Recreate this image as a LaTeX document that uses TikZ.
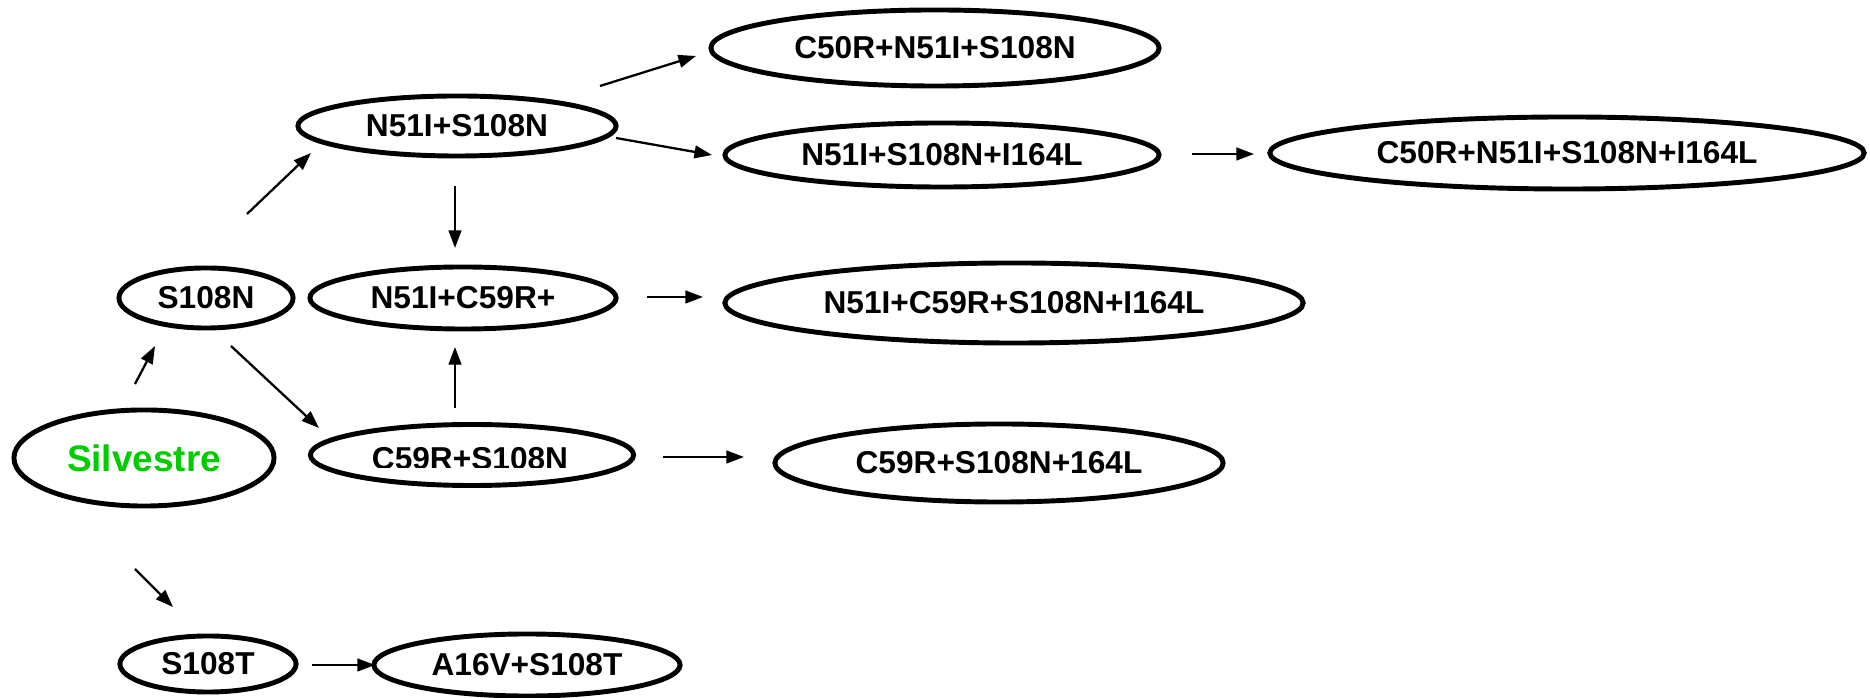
\documentclass[tikz,border=0pt]{standalone}
\usepackage{fontspec}
\setmainfont{Liberation Sans}
\usetikzlibrary{shapes.geometric,arrows.meta}
\definecolor{strain}{RGB}{0,204,0}
\begin{document}
\begin{tikzpicture}[x=0.01cm,y=-0.01cm,
  lbl/.style={font=\fontsize{9.0}{11}\selectfont\bfseries},
  mut/.style={draw,ellipse,line width=1.4pt,inner sep=0pt,lbl},
  arr/.style={-{Triangle[length=5pt,width=3.6pt]},line width=0.65pt}]
\useasboundingbox (0,0) rectangle (1870,698);

% mutation nodes
\node[mut,text=strain,minimum width=2.60cm,minimum height=0.96cm,
  font=\fontsize{10.5}{12}\selectfont\bfseries] (silv) at (144,458) {Silvestre};
\node[mut,minimum width=1.74cm,minimum height=0.60cm] (s108n) at (206,298) {S108N};
\node[mut,minimum width=3.18cm,minimum height=0.60cm] (n51s) at (457,126) {N51I+S108N};
\node[mut,minimum width=4.48cm,minimum height=0.76cm] (c50) at (935,48) {C50R+N51I+S108N};
\node[mut,minimum width=4.34cm,minimum height=0.64cm] (n51i164) at (942,155) {N51I+S108N+I164L};
\node[mut,minimum width=5.94cm,minimum height=0.72cm] (c50i164) at (1567,153) {C50R+N51I+S108N+I164L};
\node[mut,minimum width=3.06cm,minimum height=0.62cm] (n51c59) at (463,298) {N51I+C59R+};
\node[mut,minimum width=5.78cm,minimum height=0.80cm] (n51c59i164) at (1014,303) {N51I+C59R+S108N+I164L};
\node[mut,minimum width=3.23cm,minimum height=0.61cm] (c59s) at (472,455) {};
\node[mut,minimum width=4.48cm,minimum height=0.78cm] (c59i164) at (999,463) {C59R+S108N+164L};
\node[mut,minimum width=1.76cm,minimum height=0.56cm] (s108t) at (208,664) {S108T};
\node[mut,minimum width=3.06cm,minimum height=0.62cm] (a16v) at (527,665) {A16V+S108T};

% the C59R+S108N label sits low and is cut off along its foot
\begin{scope}
  \clip ([shift={(-150,-30)}]c59s.center) rectangle ([shift={(150,13)}]c59s.center);
  \node[lbl,inner sep=0pt] (c59slabel) at ([shift={(-2,4)}]c59s.center) {C59R+S108N};
\end{scope}

% connectors, drawn in the gaps between the ellipses
\draw[arr] ([shift={(-9,-74)}]silv.center) -- ([shift={(-51,48)}]s108n.center);
\draw[arr] ([shift={(41,-84)}]s108n.center) -- ([shift={(-146,27)}]n51s.center);
\draw[arr] ([shift={(25,48)}]s108n.center) -- ([shift={(-153,-27)}]c59s.center);
\draw[arr] ([shift={(-2,60)}]n51s.center) -- ([shift={(-8,-50)}]n51c59.center);
\draw[arr] ([shift={(-17,-47)}]c59s.center) -- ([shift={(-8,49)}]n51c59.center);
\draw[arr] ([shift={(143,-40)}]n51s.center) -- ([shift={(-239,8)}]c50.center);
\draw[arr] ([shift={(159,12)}]n51s.center) -- ([shift={(-230,0)}]n51i164.center);
\draw[arr] ([shift={(250,-1)}]n51i164.center) -- ([shift={(-313,1)}]c50i164.center);
\draw[arr] ([shift={(184,-1)}]n51c59.center) -- ([shift={(-311,-6)}]n51c59i164.center);
\draw[arr] ([shift={(191,2)}]c59s.center) -- ([shift={(-255,-6)}]c59i164.center);
\draw[arr] ([shift={(-9,111)}]silv.center) -- ([shift={(-35,-57)}]s108t.center);
\draw[arr] ([shift={(104,1)}]s108t.center) -- ([shift={(-152,0)}]a16v.center);
\end{tikzpicture}
\end{document}
